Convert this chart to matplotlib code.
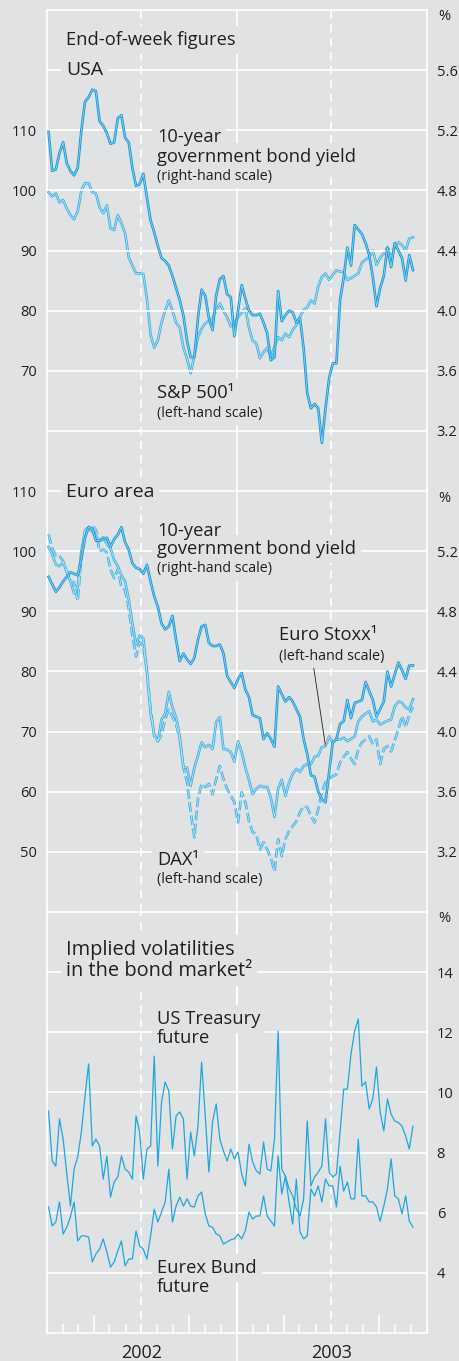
import numpy as np
import pandas as pd
import matplotlib
matplotlib.use('Agg')
import matplotlib.pyplot as plt
import matplotlib.dates as mdates
import matplotlib.transforms as mtransforms

plt.rcParams['font.family'] = ['Open Sans', 'DejaVu Sans']
plt.rcParams['lines.scale_dashes'] = False

# End-of-week dates
weeks = pd.date_range('2002-01-04', periods=101, freq='7D')

# USA: 10-year yield (%, right) and S&P 500 (index, left)
us_yield = [5.19, 4.93, 4.94, 5.05, 5.12, 4.98, 4.93, 4.90, 4.95, 5.20,
            5.39, 5.42, 5.47, 5.46, 5.26, 5.23, 5.18, 5.11, 5.12, 5.28,
            5.30, 5.15, 5.12, 4.95, 4.83, 4.84, 4.91, 4.75, 4.60, 4.52,
            4.43, 4.35, 4.33, 4.30, 4.23, 4.15, 4.07, 3.97, 3.80, 3.69,
            3.69, 3.95, 4.14, 4.10, 3.95, 3.87, 4.10, 4.21, 4.23, 4.11,
            4.09, 3.83, 4.00, 4.17, 4.08, 4.00, 3.97, 3.97, 3.98, 3.92,
            3.85, 3.67, 3.69, 4.13, 3.93, 3.97, 4.00, 3.99, 3.92, 3.95,
            3.75, 3.45, 3.35, 3.38, 3.35, 3.12, 3.35, 3.55, 3.65, 3.65,
            4.07, 4.22, 4.42, 4.30, 4.57, 4.54, 4.51, 4.45, 4.37, 4.22,
            4.03, 4.15, 4.23, 4.42, 4.29, 4.45, 4.40, 4.35, 4.20, 4.37,
            4.27]
sp500 = [99.7, 99.0, 99.5, 98.0, 98.4, 97.0, 95.9, 95.2, 96.5, 100.0,
         101.2, 101.2, 99.7, 99.5, 97.2, 96.2, 97.5, 93.7, 93.4, 95.9,
         94.5, 92.9, 88.9, 87.5, 86.2, 86.2, 86.1, 82.0, 76.0, 73.8,
         75.1, 78.0, 80.0, 81.7, 80.0, 78.0, 77.2, 73.9, 72.0, 69.6,
         72.5, 75.6, 77.0, 77.9, 78.3, 78.7, 80.1, 81.2, 80.0, 78.9,
         77.4, 77.9, 79.0, 79.6, 80.4, 77.2, 75.0, 74.6, 72.1, 73.1,
         73.8, 72.3, 74.0, 75.6, 75.1, 76.2, 75.6, 76.8, 77.6, 79.0,
         80.1, 80.6, 81.7, 81.2, 84.0, 85.6, 86.2, 85.1, 86.0, 86.7,
         86.5, 86.4, 85.1, 85.4, 85.8, 86.2, 88.0, 88.5, 88.9, 90.0,
         87.6, 88.8, 89.5, 90.5, 89.5, 90.5, 91.4, 90.9, 90.0, 92.0,
         92.2]

# Euro area: 10-year yield (%, right), Euro Stoxx and DAX (index, left)
eu_yield = [5.03, 4.98, 4.93, 4.96, 5.00, 5.03, 5.06, 5.05, 5.04, 5.15,
            5.29, 5.36, 5.35, 5.27, 5.27, 5.28, 5.29, 5.23, 5.28, 5.31,
            5.36, 5.26, 5.21, 5.12, 5.09, 5.08, 5.05, 5.11, 5.00, 4.90,
            4.83, 4.72, 4.68, 4.70, 4.77, 4.61, 4.47, 4.52, 4.48, 4.45,
            4.49, 4.61, 4.70, 4.71, 4.59, 4.57, 4.57, 4.58, 4.52, 4.37,
            4.33, 4.29, 4.35, 4.39, 4.28, 4.23, 4.11, 4.10, 4.09, 3.95,
            3.99, 3.95, 3.90, 4.30, 4.25, 4.20, 4.23, 4.20, 4.15, 4.10,
            3.95, 3.85, 3.71, 3.70, 3.60, 3.55, 3.53, 3.73, 3.93, 3.95,
            4.05, 4.07, 4.21, 4.09, 4.19, 4.20, 4.21, 4.33, 4.27, 4.21,
            4.10, 4.15, 4.20, 4.40, 4.30, 4.38, 4.46, 4.41, 4.35, 4.44,
            4.44]
stoxx = [100.7, 99.5, 97.8, 97.5, 98.2, 96.5, 95.0, 93.0, 94.0, 100.0,
         103.2, 103.7, 103.3, 102.5, 101.7, 102.3, 101.2, 100.5, 98.5, 97.5,
         96.0, 95.0, 92.0, 88.0, 84.5, 86.0, 85.5, 80.0, 73.0, 69.6,
         68.4, 72.0, 73.0, 76.6, 74.0, 72.4, 69.2, 64.0, 64.0, 61.0,
         64.0, 66.0, 68.2, 67.4, 67.8, 67.1, 71.6, 72.4, 67.1, 67.0,
         66.6, 65.0, 68.4, 66.6, 64.0, 62.0, 59.6, 60.5, 61.0, 60.8,
         60.8, 59.0, 55.8, 60.5, 62.0, 59.3, 61.5, 63.0, 63.8, 63.3,
         64.3, 64.6, 64.6, 65.8, 66.0, 67.4, 67.6, 69.2, 68.2, 68.7,
         68.7, 69.0, 68.4, 68.8, 69.2, 71.7, 72.5, 73.0, 73.4, 71.7,
         72.0, 71.2, 71.5, 71.8, 72.0, 74.2, 75.0, 74.8, 74.0, 73.7,
         75.4]
dax = [102.8, 100.5, 99.3, 99.3, 98.3, 96.7, 95.0, 94.8, 91.7, 99.0,
       103.5, 104.0, 104.3, 103.5, 100.0, 100.3, 99.8, 97.0, 95.5, 97.0,
       94.0, 93.5, 90.5, 86.0, 82.5, 84.9, 84.2, 80.0, 74.0, 69.2,
       68.4, 69.5, 72.1, 73.7, 72.5, 71.2, 68.7, 64.1, 61.6, 56.6,
       52.4, 58.8, 61.3, 60.8, 61.3, 59.6, 62.1, 64.3, 62.1, 60.5,
       59.3, 58.3, 54.9, 59.9, 58.3, 55.1, 53.3, 52.9, 50.4, 51.6,
       50.4, 49.0, 46.8, 52.1, 49.3, 52.1, 53.5, 54.3, 55.1, 56.6,
       57.6, 57.4, 56.0, 54.9, 57.1, 59.9, 61.6, 62.2, 62.6, 62.9,
       64.9, 65.8, 66.6, 65.5, 64.6, 67.1, 68.2, 68.7, 69.2, 67.9,
       68.7, 64.6, 67.1, 67.6, 66.7, 68.5, 70.4, 72.6, 70.7, 72.9,
       74.1]

# Implied volatilities (%)
us_vol = [9.38, 7.72, 7.55, 9.12, 8.45, 7.30, 6.22, 7.45, 7.85, 8.68,
          9.88, 10.95, 8.22, 8.45, 8.22, 7.12, 7.89, 6.52, 7.02, 7.19,
          7.89, 7.45, 7.35, 7.12, 9.22, 8.68, 7.12, 8.12, 8.22, 11.21,
          7.55, 9.68, 10.35, 10.05, 8.12, 9.22, 9.35, 9.12, 7.12, 8.68,
          7.89, 8.88, 11.01, 9.22, 7.35, 9.02, 9.62, 8.45, 8.05, 7.72,
          8.12, 7.79, 8.02, 7.29, 6.89, 8.28, 7.69, 7.40, 7.29, 8.35,
          7.45, 7.39, 8.45, 12.04, 7.45, 7.22, 6.80, 6.56, 6.12, 5.89,
          6.46, 9.05, 6.89, 7.19, 7.35, 7.55, 9.12, 7.35, 7.19, 7.29,
          8.68, 10.11, 10.11, 11.28, 12.04, 12.44, 10.21, 10.35, 9.45, 9.80,
          10.85, 9.35, 8.72, 9.78, 9.28, 9.05, 9.00, 8.88, 8.55, 8.12,
          8.88]
bund_vol = [6.19, 5.56, 5.69, 6.36, 5.29, 5.52, 5.86, 6.36, 5.06, 5.23,
            5.23, 5.19, 4.36, 4.63, 4.79, 5.13, 4.69, 4.19, 4.36, 4.73,
            5.06, 4.23, 4.46, 4.46, 5.39, 4.89, 4.79, 4.46, 5.23, 6.12,
            5.69, 6.02, 6.36, 7.45, 5.69, 6.22, 6.52, 6.22, 6.46, 6.22,
            6.19, 6.56, 6.69, 5.96, 5.56, 5.52, 5.30, 5.23, 4.96, 5.03,
            5.10, 5.13, 5.29, 5.13, 5.40, 6.02, 5.79, 5.89, 5.89, 6.56,
            5.89, 5.72, 5.56, 7.89, 6.62, 7.22, 6.36, 5.62, 7.12, 5.36,
            5.13, 5.23, 6.79, 6.56, 6.89, 6.36, 7.12, 6.89, 6.89, 6.19,
            7.55, 6.72, 7.02, 6.46, 6.46, 8.45, 6.56, 6.56, 6.36, 6.36,
            6.19, 5.72, 6.22, 6.79, 7.79, 6.56, 6.46, 5.96, 6.56, 5.72,
            5.52]

BG = '#e1e2e4'
TXT = '#231f20'
YLD_OUT, YLD_IN = '#1a9ad6', '#a3daf2'
STK_OUT, STK_IN = '#45b3e2', '#c6e9f8'
VOL = '#1fa6dc'

W, H = 460, 1361
fig = plt.figure(figsize=(W / 100, H / 100), dpi=100, facecolor=BG)
X0, X1 = 47, 427
step = (1333 - 10) / 22
t0, t1 = pd.Timestamp('2002-01-01'), pd.Timestamp('2004-01-01')
mid_years = [pd.Timestamp('2002-07-01'), pd.Timestamp('2003-07-01')]
year_line = pd.Timestamp('2003-01-01')


def make_panel(top, nrows):
    bot = top + nrows * step
    ax = fig.add_axes([X0 / W, 1 - bot / H, (X1 - X0) / W, (bot - top) / H])
    ax.set_facecolor(BG)
    ax.set_xlim(t0, t1)
    for s in ax.spines.values():
        s.set_visible(False)
    for d in [t0, year_line, t1]:
        ax.axvline(d, color='white', lw=1.2, zorder=1, clip_on=False)
    for d in mid_years:
        ax.axvline(d, color='white', lw=1.2, dashes=(6, 4), zorder=1)
    ax.tick_params(axis='x', bottom=False, labelbottom=False)
    ax.tick_params(axis='y', length=0, labelsize=10.5, colors=TXT, pad=7)
    ax2 = ax.twinx()
    for s in ax2.spines.values():
        s.set_visible(False)
    ax2.tick_params(axis='y', length=0, labelsize=10.5, colors=TXT, pad=7)
    return ax, ax2


def double_line(ax, y, outer, inner, dashed=False):
    kw = {'dashes': (7, 2.5)} if dashed else {}
    ax.plot(weeks, y, color=outer, lw=1.9, zorder=3, **kw)
    ax.plot(weeks, y, color=inner, lw=0.5, zorder=4, **kw)


def label(x, y, s, size, box=True):
    pos = (x / W, 1 - y / H)
    if box:
        # background patch drawn under every label text
        fig.text(*pos, s, fontsize=size, color='none', ha='left', va='center', zorder=5,
                 bbox=dict(facecolor=BG, edgecolor='none', pad=3.5))
    fig.text(*pos, s, fontsize=size, color=TXT, ha='left', va='center', zorder=6)


# USA panel
ax1, ax1r = make_panel(10, 8)
ax1.set_ylim(50, 130)
ax1r.set_ylim(2.8, 6.0)
for v in np.arange(3.2, 6.01, 0.4):
    ax1r.axhline(v, color='white', lw=1.2, zorder=1, clip_on=False)
ax1.set_yticks([70, 80, 90, 100, 110])
ax1r.set_yticks([3.2, 3.6, 4.0, 4.4, 4.8, 5.2, 5.6])
ax1r.set_yticklabels(['3.2', '3.6', '4.0', '4.4', '4.8', '5.2', '5.6'])
double_line(ax1, sp500, STK_OUT, STK_IN)
double_line(ax1r, us_yield, YLD_OUT, YLD_IN)

# Euro area panel
ax2, ax2r = make_panel(10 + 8 * step, 7)
ax2.set_ylim(40, 110)
ax2r.set_ylim(2.8, 5.6)
for v in range(50, 111, 10):
    ax2.axhline(v, color='white', lw=1.2, zorder=1, clip_on=False)
ax2.set_yticks([50, 60, 70, 80, 90, 100, 110])
ax2r.set_yticks([3.2, 3.6, 4.0, 4.4, 4.8, 5.2])
ax2r.set_yticklabels(['3.2', '3.6', '4.0', '4.4', '4.8', '5.2'])
double_line(ax2, stoxx, STK_OUT, STK_IN)
double_line(ax2, dax, STK_OUT, STK_IN, dashed=True)
double_line(ax2r, eu_yield, YLD_OUT, YLD_IN)

# Volatility panel
ax3, ax3r = make_panel(10 + 15 * step, 7)
ax3r.set_ylim(2, 16)
ax3.set_ylim(2, 16)
ax3.set_yticks([])
for v in range(4, 17, 2):
    ax3.axhline(v, color='white', lw=1.2, zorder=1, clip_on=False)
ax3r.set_yticks([4, 6, 8, 10, 12, 14])
ax3r.plot(weeks, us_vol, color=VOL, lw=0.9, zorder=3)
ax3r.plot(weeks, bund_vol, color=VOL, lw=0.9, zorder=3)
ax3.spines['bottom'].set_visible(True)
ax3.spines['bottom'].set_color('white')
ax3.spines['bottom'].set_linewidth(1.2)
ax3.xaxis.set_major_locator(mdates.MonthLocator(bymonth=[4, 10]))
ax3.xaxis.set_minor_locator(mdates.MonthLocator())
ax3.tick_params(axis='x', which='both', bottom=True, direction='in', color='white', width=1.1)
ax3.tick_params(axis='x', which='major', length=13)
ax3.tick_params(axis='x', which='minor', length=6.5)
ax3.axvline(year_line, ymin=-0.07, ymax=1, color='white', lw=1.2, zorder=1, clip_on=False)
trans = mtransforms.blended_transform_factory(ax3.transData, ax3.transAxes)
for d, s in zip(mid_years, ['2002', '2003']):
    ax3.text(d, -20 / (7 * step), s, transform=trans, ha='center', va='center',
             fontsize=13, color=TXT)

# Texts
for y in [17, 498, 919]:
    label(438, y, '%', 10.5, box=False)
label(66, 40, 'End-of-week figures', 13.2)
label(66, 70, 'USA', 14)
label(157, 137, '10-year', 13.2)
label(157, 157, 'government bond yield', 13.2)
label(157, 176, '(right-hand scale)', 10.3)
label(157, 393, 'S&P 500\u00b9', 13.2)
label(157, 413, '(left-hand scale)', 10.3)
label(66, 492, 'Euro area', 14)
label(157, 531, '10-year', 13.2)
label(157, 549, 'government bond yield', 13.2)
label(157, 569, '(right-hand scale)', 10.3)
label(279, 635, 'Euro Stoxx\u00b9', 13.2)
label(279, 656, '(left-hand scale)', 10.3)
label(157, 860, 'DAX\u00b9', 13.2)
label(157, 879, '(left-hand scale)', 10.3)
label(66, 950, 'Implied volatilities', 14.4)
label(66, 971, 'in the bond market\u00b2', 14.4)
label(157, 1019, 'US Treasury', 13.2)
label(157, 1038, 'future', 13.2)
label(157, 1268, 'Eurex Bund', 13.2)
label(157, 1287, 'future', 13.2)

ax2.annotate('', xy=(weeks[76], stoxx[76]), xytext=(313, H - 663),
             textcoords='figure pixels',
             arrowprops=dict(arrowstyle='-', color=TXT, lw=0.6, shrinkA=0, shrinkB=0))

fig.savefig('out.png', dpi=100, facecolor=BG)
